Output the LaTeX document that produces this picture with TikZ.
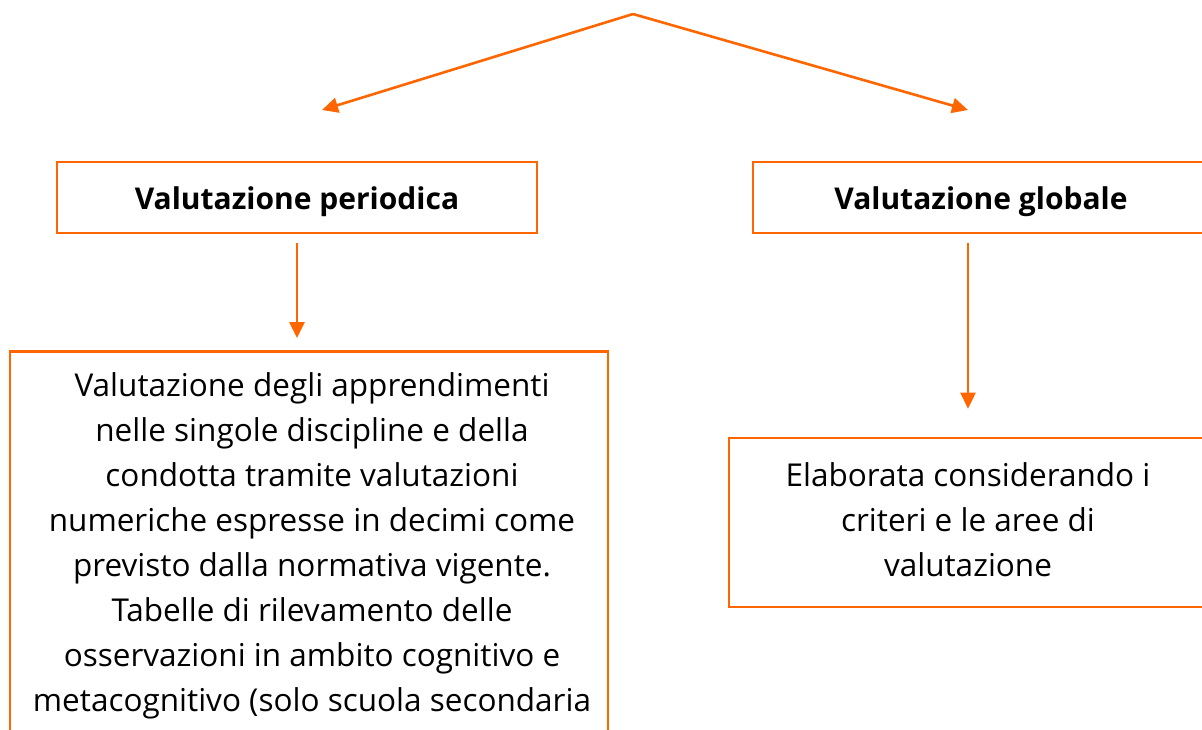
\documentclass[tikz,border=0pt]{standalone}
\usepackage{fontspec}
\setmainfont{Open Sans}
\usetikzlibrary{arrows.meta}
\definecolor{orng}{RGB}{255,102,0}
\begin{document}
\begin{tikzpicture}[x=1pt,y=-1pt,
  boxst/.style={draw=orng,line width=2.6pt,rectangle,inner sep=0pt},
  arr/.style={draw=orng,line width=2.6pt,-{Triangle[length=16pt,width=15pt]}},
  head/.style={font=\fontsize{30}{36}\selectfont\bfseries},
  body/.style={font=\fontsize{31.5}{45}\selectfont,align=center,inner sep=0pt}]
\useasboundingbox (0,0) rectangle (1202,729);
\clip (0,0) rectangle (1202,729);
\coordinate (apex) at (633,14);
\coordinate (lend) at (322,110);
\coordinate (rend) at (968,110);
\draw[arr] (apex) -- (lend);
\draw[arr] (apex) -- (rend);
\node[boxst,minimum width=480,minimum height=71] (per) at (297,197.5) {};
\node[head] (pertxt) at (297,202) {Valutazione periodica};
\node[boxst,minimum width=456,minimum height=71] (glo) at (981,197.5) {};
\node[head] (glotxt) at (981,202) {Valutazione globale};
\node[boxst,minimum width=598,minimum height=420,anchor=north] (big) at (309,350) {};
\node[body] (bigtxt) at (312,546) {Valutazione degli apprendimenti\\nelle singole discipline e della\\condotta tramite valutazioni\\numeriche espresse in decimi come\\previsto dalla normativa vigente.\\Tabelle di rilevamento delle\\osservazioni in ambito cognitivo e\\metacognitivo (solo scuola secondaria};
\node[boxst,minimum width=478,minimum height=169] (crit) at (968,522.5) {};
\node[body] (crittxt) at (968,520) {Elaborata considerando i\\criteri e le aree di\\valutazione};
\draw[arr] ([yshift=-9]per.south) -- ([yshift=12]big.north -| per.south);
\draw[arr] ([yshift=-9]glo.south -| crit.north) -- ([yshift=28]crit.north);
\end{tikzpicture}
\end{document}
